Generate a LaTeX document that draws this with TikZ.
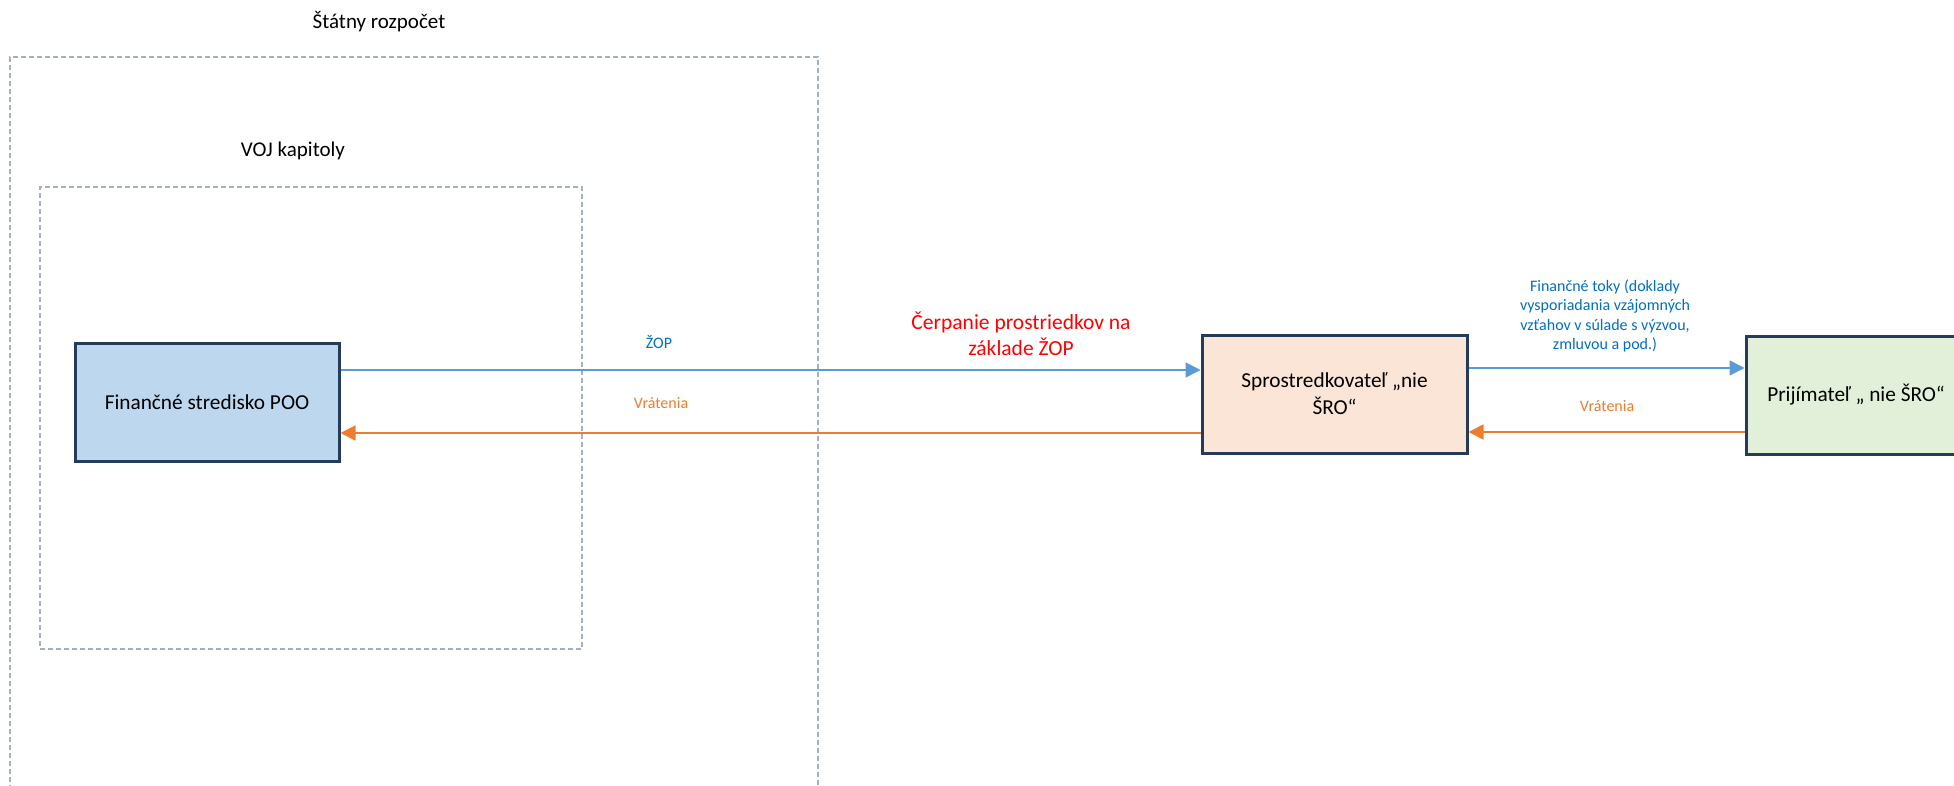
\documentclass[tikz,border=0pt]{standalone}
\usepackage{fontspec}
\setmainfont{Carlito}
\usetikzlibrary{arrows.meta}
\definecolor{frameC}{HTML}{A2B0C2}
\definecolor{borderC}{HTML}{243B5A}
\definecolor{fillBlue}{HTML}{BDD7EE}
\definecolor{fillPeach}{HTML}{FBE5D6}
\definecolor{fillGreen}{HTML}{E2F0D9}
\definecolor{arrBlue}{HTML}{5B9BD5}
\definecolor{arrOrange}{HTML}{ED7D31}
\definecolor{txtBlue}{HTML}{0070C0}
\definecolor{txtRed}{HTML}{FF0000}
\tikzset{
  frame/.style={draw=frameC, line width=1.3pt, dash pattern=on 5pt off 3pt, rectangle, inner sep=0pt, outer sep=0pt},
  entity/.style={draw=borderC, line width=3pt, rectangle, inner sep=4pt, align=center,
     minimum height=118pt, font=\fontsize{21.3}{27}\selectfont},
  title/.style={font=\fontsize{21}{25}\selectfont, inner sep=0pt},
  small/.style={font=\fontsize{16}{19.5}\selectfont, inner sep=0pt, align=center},
  flowblue/.style={draw=arrBlue, line width=1.5pt, -{Triangle[length=15pt,width=15pt]}},
  floworange/.style={draw=arrOrange, line width=1.8pt, -{Triangle[length=15pt,width=15pt]}},
}
\begin{document}
\begin{tikzpicture}[x=1pt,y=-1pt]
\useasboundingbox (0,0) rectangle (1954,786);
\fill[white] (0,0) rectangle (1954,786);
\begin{scope}
\clip (0,0) rectangle (1954,786);
% frames
\node[frame, minimum width=808pt, minimum height=760pt, anchor=north west] (outer) at (10,57) {};
\node[frame, minimum width=542pt, minimum height=462pt, anchor=north west] (inner) at (40,187) {};
\node[title] (tstate) at (379,22) {Štátny rozpočet};
\node[title] (tvoj) at (293,151) {VOJ kapitoly};
% entities
\node[entity, fill=fillBlue, minimum width=264pt] (poo) at (207,402) {Finančné stredisko POO};
\node[entity, fill=fillPeach, minimum width=265pt] (spr) at (1334.5,394) {Sprostredkovateľ „nie\\ŠRO“};
\node[entity, fill=fillGreen, minimum width=220pt] (pri) at (1856,395) {Prijímateľ „ nie ŠRO“};
% connectors
\draw[flowblue] (poo.east |- 0,370) -- (spr.west |- 0,370);
\draw[floworange] (spr.west |- 0,433) -- (poo.east |- 0,433);
\draw[flowblue] (spr.east |- 0,368) -- (pri.west |- 0,368);
\draw[floworange] (pri.west |- 0,432) -- (spr.east |- 0,432);
% labels
\node[small, text=txtBlue] (lzop) at (659,342) {ŽOP};
\node[small, text=arrOrange] (lvr1) at (661,403) {Vrátenia};
\node[font=\fontsize{21.5}{26}\selectfont, text=txtRed, align=center, inner sep=0pt] (lcerp) at (1021,334) {Čerpanie prostriedkov na\\základe ŽOP};
\node[small, text=txtBlue] (lfin) at (1605,316) {Finančné toky (doklady\\vysporiadania vzájomných\\vzťahov v súlade s výzvou,\\zmluvou a pod.)};
\node[small, text=arrOrange] (lvr2) at (1607,406) {Vrátenia};
\end{scope}
\end{tikzpicture}
\end{document}
